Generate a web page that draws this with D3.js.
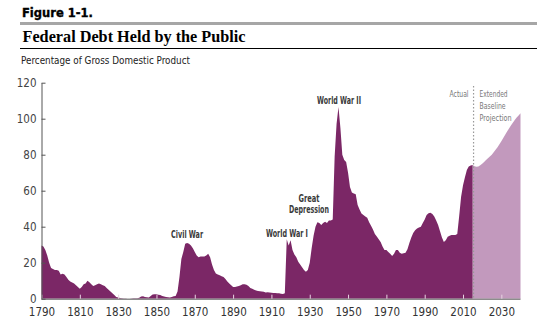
<!DOCTYPE html>
<html>
<head>
<meta charset="utf-8">
<script src="https://cdn.jsdelivr.net/npm/d3@7"></script>
<style>
  body { margin: 0; background: #fff; }
  svg { display: block; }
</style>
</head>
<body>
<div id="chart"></div>
<script>
// debt held by the public, % of GDP
var actualYears = d3.range(1790, 2016);
var actualValues = [
  // 1790s
  29.5, 29, 27, 24, 20, 17, 16.5, 16, 16, 15.5,
  // 1800s
  13.5, 13.8, 13.5, 12, 10.5, 9.5, 9, 8.5, 7.5, 6.5,
  // 1810s
  5.5, 6.5, 8, 8.5, 10, 9.2, 8, 7, 7.5, 8,
  // 1820s
  8.5, 8, 7.5, 7, 6, 5, 4, 3, 2, 1,
  // 1830s
  0.6, 0.4, 0.3, 0.1, 0.1, 0, 0, 0.1, 0.3, 0.3,
  // 1840s
  0.2, 0.5, 1.2, 1.3, 1, 0.8, 0.7, 1.5, 2.3, 2.5,
  // 1850s
  2.5, 2.2, 2, 1.5, 1.2, 0.9, 0.8, 0.7, 1, 1.3,
  // 1860s
  1.5, 4, 12, 22, 26, 30.5, 31, 30.5, 29.5, 28,
  // 1870s
  26, 24, 23, 23.5, 23.5, 23.5, 24, 25, 23, 19,
  // 1880s
  16, 14, 13.5, 13, 12.5, 12, 11, 9.5, 8.5, 7.5,
  // 1890s
  6.5, 6.5, 6.8, 7, 7.5, 8, 8, 7.8, 7, 6,
  // 1900s
  5.5, 5, 4.5, 4.3, 4.2, 4, 3.8, 3.5, 3.6, 3.5,
  // 1910s
  3.3, 3.2, 3.1, 3, 3, 2.8, 2.6, 3, 33, 29.5,
  // 1920s
  32.5, 27, 24.5, 23, 20.5, 19, 17.5, 16, 15, 16,
  // 1930s
  20, 28, 35, 40, 42.5, 42, 41, 42, 42.8, 42,
  // 1940s
  43.5, 43.5, 44, 79, 97, 106.5, 95, 80, 77, 76,
  // 1950s
  70, 62, 59, 58.5, 58, 52, 49.5, 47.4, 46.5, 45.6,
  // 1960s
  45, 42.5, 40.5, 38.5, 36, 34.5, 33, 31.5, 29, 27,
  // 1970s
  27, 26, 25, 23.7, 25, 27, 27, 25.5, 25, 25.2,
  // 1980s
  25.5, 27.5, 31, 34, 36.5, 38, 39, 39.5, 40, 42,
  // 1990s
  44, 46.5, 47.5, 47.8, 47, 45.6, 43.5, 41, 37.5, 34,
  // 2000s
  31.5, 32.5, 34.4, 35, 35.4, 35.4, 35.4, 36, 46, 56.7,
  // 2010s
  63, 67.5, 71.5, 73.4, 74, 74.3
];

var projYears = d3.range(2015, 2041);
var projValues = [
  74.3, 73.6, 73.3, 73.5, 74.2, 75, 76, 77, 78, 79,
  80, 81.3, 82.7, 84.2, 85.8, 87.5, 89.3, 91.1, 92.9, 94.6,
  96.2, 97.8, 99.3, 100.6, 101.8, 103
];

var yTicks = [0, 20, 40, 60, 80, 100, 120];
var xTicks = d3.range(1790, 2041, 20);

var labels = [
  {lines: ["Civil War"], year: 1866, value: 33.7, widths: [32]},
  {lines: ["World War I"], year: 1918.1, value: 34.5, widths: [42]},
  {lines: ["Great", "Depression"], year: 1929.6, value: 53.7, widths: [21, 40]},
  {lines: ["World War II"], year: 1945.3, value: 108.2, widths: [44]}
];

var width = 537, height = 321;
var narrow = "'DejaVu Sans Condensed', 'DejaVu Sans', sans-serif";

var svg = d3.select("#chart")
  .append("svg")
  .attr("width", width)
  .attr("height", height);

// header
svg.append("text")
  .attr("x", 22).attr("y", 16.5)
  .attr("textLength", 71).attr("lengthAdjust", "spacingAndGlyphs")
  .style("font-family", "'DejaVu Sans', sans-serif")
  .style("font-weight", "bold")
  .style("font-size", "11.5px")
  .attr("stroke", "#000").attr("stroke-width", 0.35)
  .text("Figure 1-1.");

svg.append("rect")
  .attr("x", 20).attr("y", 22)
  .attr("width", width - 20).attr("height", 3)
  .attr("fill", "#a6a6a6");

svg.append("text")
  .attr("x", 22.5).attr("y", 41.5)
  .attr("textLength", 223).attr("lengthAdjust", "spacingAndGlyphs")
  .style("font-family", "'Liberation Serif', serif")
  .style("font-weight", "bold")
  .style("font-size", "17px")
  .text("Federal Debt Held by the Public");

svg.append("line")
  .attr("x1", 20).attr("x2", width)
  .attr("y1", 48.5).attr("y2", 48.5)
  .attr("stroke", "#000").attr("stroke-width", 1.2);

svg.append("text")
  .attr("x", 21).attr("y", 63.5)
  .attr("textLength", 169).attr("lengthAdjust", "spacingAndGlyphs")
  .style("font-family", narrow)
  .style("font-size", "10.5px")
  .attr("fill", "#222")
  .text("Percentage of Gross Domestic Product");

// scales
var x = d3.scaleLinear()
  .domain([1790, 2040])
  .range([41.5, 520.5]);

var y = d3.scaleLinear()
  .domain([0, 120])
  .range([298.7, 82.7]);

var area = d3.area()
  .x(function(d) { return x(d.year); })
  .y0(y(0))
  .y1(function(d) { return y(d.value); });

var actual = actualYears.map(function(yr, i) { return {year: yr, value: actualValues[i]}; });
var proj = projYears.map(function(yr, i) { return {year: yr, value: projValues[i]}; });

svg.append("path")
  .datum(proj)
  .attr("d", area)
  .attr("fill", "#c299bd");

svg.append("path")
  .datum(actual)
  .attr("d", area)
  .attr("fill", "#7b2766");

// x axis
var xAxis = svg.append("g")
  .attr("transform", "translate(0," + y(0) + ")")
  .call(d3.axisBottom(x).tickValues(xTicks).tickFormat(d3.format("d")).tickSize(0).tickPadding(9));
xAxis.select(".domain")
  .attr("d", "M" + x(1790) + ",0.5H" + x(2040))
  .attr("stroke", "#8c8c8c").attr("stroke-width", 1.5);
xAxis.selectAll(".tick line").remove();
xAxis.selectAll(".tick")
  .append("line")
  .attr("y1", 0).attr("y2", -4)
  .attr("stroke", "#e8d6e3").attr("stroke-width", 1);
xAxis.selectAll("text")
  .style("font-family", narrow)
  .style("font-size", "11.5px")
  .attr("fill", "#333");

// y axis
var yAxis = svg.append("g")
  .attr("transform", "translate(" + x(1790) + ",0)")
  .call(d3.axisLeft(y).tickValues(yTicks).tickSize(0).tickPadding(5));
yAxis.select(".domain")
  .attr("stroke", "#555").attr("stroke-width", 1);
yAxis.selectAll(".tick")
  .append("line")
  .attr("x1", 0).attr("x2", 4)
  .attr("stroke", "#555");
yAxis.selectAll("text")
  .style("font-family", narrow)
  .style("font-size", "11.5px")
  .attr("fill", "#444");

// actual / projection divider
svg.append("line")
  .attr("x1", x(2015.5)).attr("x2", x(2015.5))
  .attr("y1", 86).attr("y2", y(0))
  .attr("stroke", "#999")
  .attr("stroke-width", 1.2)
  .attr("stroke-dasharray", "1.5,2");

svg.append("text")
  .attr("x", x(2015.5) - 5).attr("y", 96.5)
  .attr("text-anchor", "end")
  .attr("textLength", 19).attr("lengthAdjust", "spacingAndGlyphs")
  .style("font-family", narrow)
  .style("font-size", "9.5px")
  .attr("fill", "#777")
  .text("Actual");

var projLines = [["Extended", 28], ["Baseline", 26], ["Projection", 32]];
projLines.forEach(function(p, i) {
  svg.append("text")
    .attr("x", x(2015.5) + 6)
    .attr("y", 96.5 + i * 12.2)
    .attr("textLength", p[1]).attr("lengthAdjust", "spacingAndGlyphs")
    .style("font-family", narrow)
    .style("font-size", "9.5px")
    .attr("fill", "#777")
    .text(p[0]);
});

// event labels
labels.forEach(function(l) {
  l.lines.forEach(function(s, i) {
    svg.append("text")
      .attr("x", x(l.year) - l.widths[i] / 2)
      .attr("y", y(l.value) + i * 11)
      .attr("textLength", l.widths[i]).attr("lengthAdjust", "spacingAndGlyphs")
      .style("font-family", narrow)
      .style("font-weight", "bold")
      .style("font-size", "10.5px")
      .attr("fill", "#3a3a3a")
      .text(s);
  });
});
</script>
</body>
</html>
